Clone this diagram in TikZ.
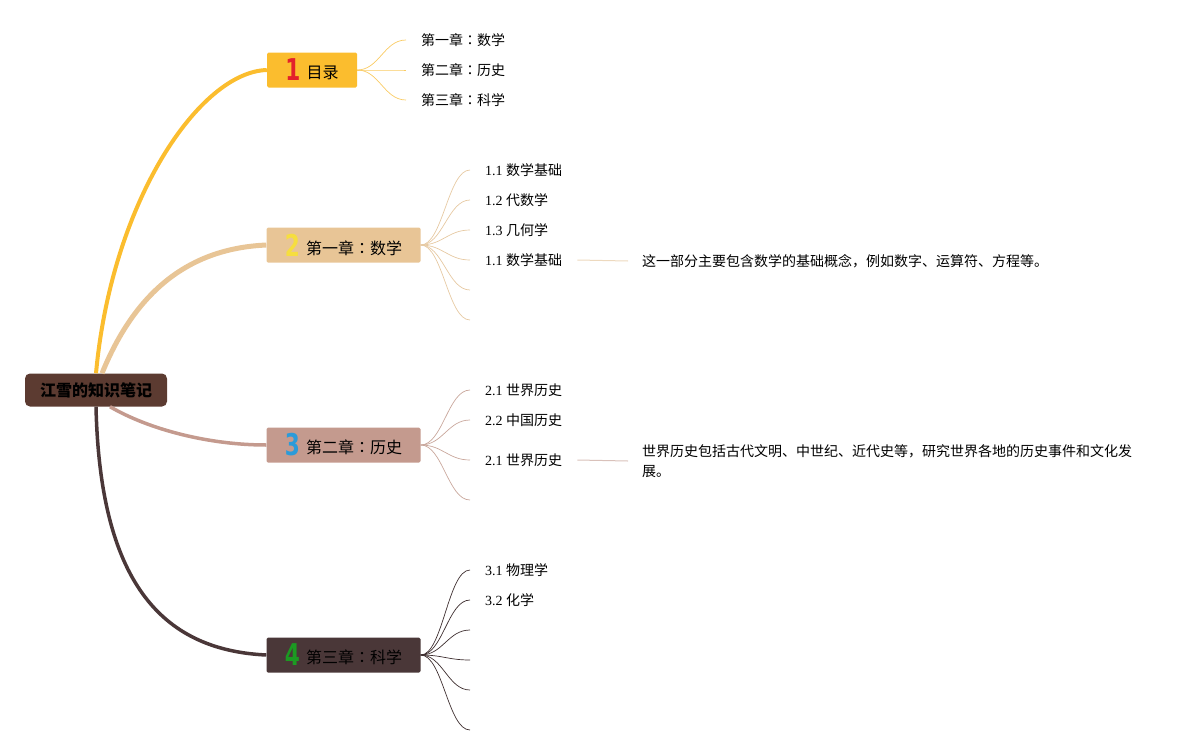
\documentclass[tikz,border=0pt]{standalone}
\usepackage{fontspec}
\usepackage{tikz}
\setmainfont{Liberation Serif}
\newfontfamily\cjk{Noto Sans CJK SC}
\newfontfamily\cjkmid{Noto Sans CJK TC}
\newfontfamily\numfont{DejaVu Sans}
\definecolor{rootc}{HTML}{5C3B31}
\definecolor{cA}{HTML}{FBBD2E}
\definecolor{cB}{HTML}{E8C596}
\definecolor{cC}{HTML}{C49A8E}
\definecolor{cD}{HTML}{4A3738}
\definecolor{lA}{HTML}{F9CB63}
\definecolor{lB}{HTML}{E6C9A2}
\definecolor{lC}{HTML}{C9A79C}
\definecolor{lD}{HTML}{3E2E2F}
\definecolor{nA}{HTML}{E3212B}
\definecolor{nB}{HTML}{F6DE3F}
\definecolor{nC}{HTML}{2B9BD9}
\definecolor{nD}{HTML}{1C9A22}
\newcommand{\num}[2]{\raisebox{-2pt}{\scalebox{0.72}[1]{\numfont\bfseries\fontsize{30}{30}\selectfont\textcolor{#1}{#2}}}\hspace{6pt}}
\newcommand{\zhcol}{{\cjkmid ：}}

\begin{document}
\begin{tikzpicture}[x=1pt,y=-1pt,
  rootbox/.style={fill=rootc,rounded corners=5pt,minimum width=142pt,minimum height=33pt,
    font=\cjk\bfseries\fontsize{16}{16}\selectfont,inner sep=0pt},
  topic/.style={rounded corners=1.5pt,minimum height=35pt,inner sep=0pt,
    font=\cjk\fontsize{16}{16}\selectfont},
  sub/.style={anchor=west,inner xsep=15pt,inner ysep=2pt,font=\fontsize{14}{14}\selectfont},
  desc/.style={anchor=west,inner xsep=14pt,inner ysep=2pt,align=left,
    font=\cjk\fontsize{14}{20}\selectfont},
  twig/.style={line width=0.7pt}]
\useasboundingbox (0,0) rectangle (1202,755);

\node[rootbox] (root) at (96,390) {江雪的知识笔记};
\node[topic,fill=cA,minimum width=90pt] (t1) at (312,70) {\num{nA}{1}目录};
\node[topic,fill=cB,minimum width=154pt] (t2) at (343.5,245) {\num{nB}{2}第一章\zhcol 数学};
\node[topic,fill=cC,minimum width=154pt] (t3) at (343.5,445) {\num{nC}{3}第二章\zhcol 历史};
\node[topic,fill=cD,minimum width=154pt] (t4) at (343.5,655) {\num{nD}{4}第三章\zhcol 科学};

\draw[cA,line width=4pt] (root.north) .. controls (112,200) and (200,72) .. (t1.west);
\draw[cB,line width=5pt] ([xshift=6pt]root.north) .. controls (140,280) and (200,248) .. (t2.west);
\draw[cC,line width=3.5pt] ([xshift=14pt]root.south) .. controls (150,430) and (210,445) .. (t3.west);
\draw[cD,line width=3.5pt] (root.south) .. controls (100,580) and (160,650) .. (t4.west);

\node[sub] (s11) at (406,40) {\cjk 第一章\zhcol 数学};
\node[sub] (s12) at (406,70) {\cjk 第二章\zhcol 历史};
\node[sub] (s13) at (406,100) {\cjk 第三章\zhcol 科学};
\foreach \s in {s11,s12,s13}
  \draw[twig,lA] (t1.east) .. controls +(22,0) and +(-22,0) .. (\s.west);

\node[sub] (s21) at (470,170) {1.1 \cjk 数学基础};
\node[sub] (s22) at (470,200) {1.2 \cjk 代数学};
\node[sub] (s23) at (470,230) {1.3 \cjk 几何学};
\node[sub] (s24) at (470,260) {1.1 \cjk 数学基础};
\coordinate (s25) at (470,290);
\coordinate (s26) at (470,320);
\foreach \s in {s21,s22,s23,s24}
  \draw[twig,lB] (t2.east) .. controls +(22,0) and +(-22,0) .. (\s.west);
\foreach \s in {s25,s26}
  \draw[twig,lB] (t2.east) .. controls +(22,0) and +(-22,0) .. (\s);
\node[desc] (d24) at (628,261) {这一部分主要包含数学的基础概念，例如数字、运算符、方程等。};
\draw[lB!70,line width=1pt] (s24.east) -- (d24.west);

\node[sub] (s31) at (470,390) {2.1 \cjk 世界历史};
\node[sub] (s32) at (470,420) {2.2 \cjk 中国历史};
\node[sub] (s33) at (470,460) {2.1 \cjk 世界历史};
\coordinate (s34) at (470,500);
\foreach \s in {s31,s32,s33}
  \draw[twig,lC] (t3.east) .. controls +(22,0) and +(-22,0) .. (\s.west);
\draw[twig,lC] (t3.east) .. controls +(22,0) and +(-22,0) .. (s34);
\node[desc,text width=500pt] (d33) at (628,461) {世界历史包括古代文明、中世纪、近代史等，研究世界各地的历史事件和文化发\\展。};
\draw[lC!70,line width=1pt] (s33.east) -- (d33.west);

\node[sub] (s41) at (470,570) {3.1 \cjk 物理学};
\node[sub] (s42) at (470,600) {3.2 \cjk 化学};
\coordinate (s43) at (470,630);
\coordinate (s44) at (470,660);
\coordinate (s45) at (470,690);
\coordinate (s46) at (470,730);
\foreach \s in {s41,s42}
  \draw[twig,lD] (t4.east) .. controls +(22,0) and +(-22,0) .. (\s.west);
\foreach \s in {s43,s44,s45,s46}
  \draw[twig,lD] (t4.east) .. controls +(22,0) and +(-22,0) .. (\s);
\end{tikzpicture}
\end{document}
